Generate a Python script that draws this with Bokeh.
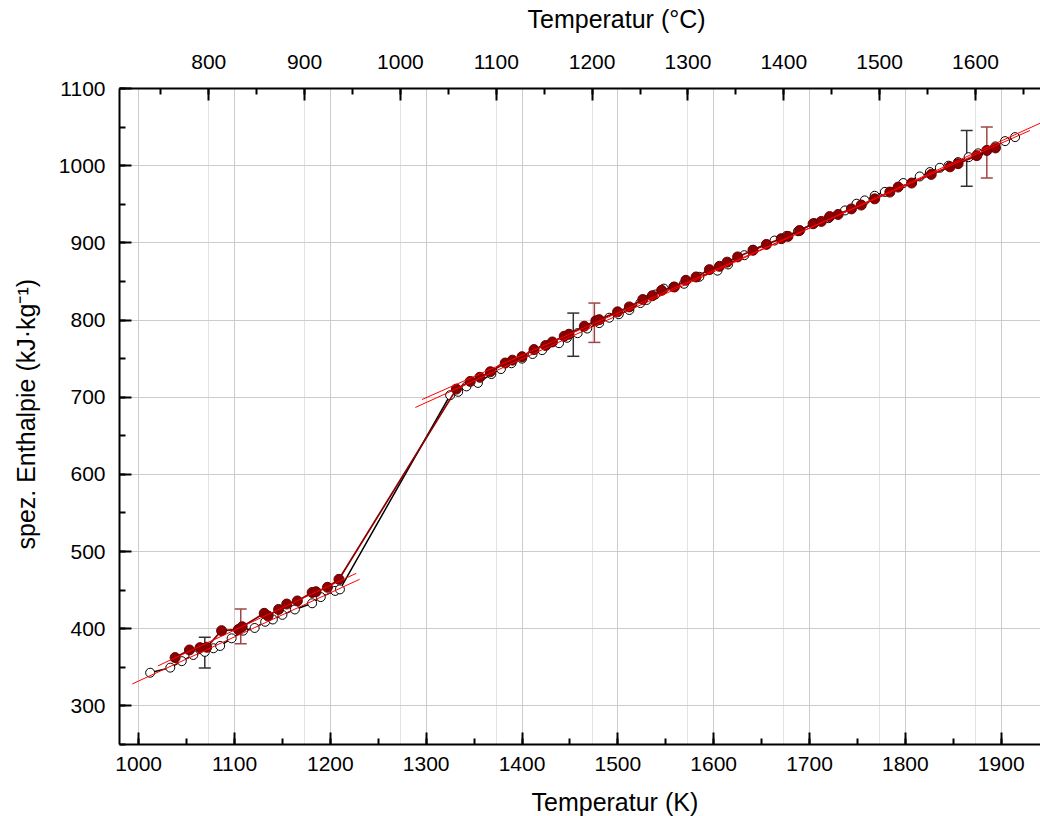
from bokeh.plotting import figure
from bokeh.models import (Range1d, LinearAxis, Grid, FixedTicker, SingleIntervalTicker,
                          ColumnDataSource, Whisker, TeeHead, Title)
from bokeh.embed import file_html
from bokeh.resources import INLINE

# ---- data: series 1 (open black circles), temperature in K, enthalpy in kJ/kg
black_T = [1012, 1033, 1045, 1057, 1069, 1078, 1085, 1097, 1109, 1121, 1132, 1140, 1150,
           1163, 1181, 1190, 1205, 1210,
           1325, 1333.4, 1342, 1354, 1368, 1378, 1389, 1400, 1411, 1421, 1438.6, 1447,
           1458, 1468, 1480.5, 1491, 1501, 1512, 1523.5, 1530, 1539, 1548, 1558, 1569,
           1585, 1604, 1615, 1632, 1641, 1663.5, 1676, 1688, 1705, 1720, 1737, 1749,
           1757.6, 1768, 1778.6, 1797.8, 1815, 1825.6, 1836, 1845, 1855, 1866, 1876,
           1885, 1894, 1904, 1914.5]
black_H = [343, 349.6, 358, 366, 370, 374.7, 377.7, 387.6, 397.5, 401, 409, 412, 418,
           425, 433, 441, 449, 451,
           702.6, 707, 714, 718.5, 730, 736.5, 744, 750, 756, 761, 770, 777,
           783, 789, 796, 803, 807.5, 813, 822, 826, 833, 840.7, 843, 847,
           856, 864, 872, 884, 891, 903, 909, 915, 925.6, 932, 942, 950.7,
           955, 961, 966, 977.5, 986, 991.7, 997.3, 1000, 1004.6, 1011, 1016,
           1020, 1025, 1031.8, 1037]

# ---- data: series 2 (filled dark red circles)
red_T = [1038, 1053, 1064, 1071, 1086.5, 1104, 1108, 1131, 1135, 1146, 1154.5, 1165.6,
         1181, 1185, 1197, 1209,
         1331.5, 1346, 1356, 1367, 1382.5, 1390, 1400, 1412.5, 1424.7, 1431.7, 1444,
         1449, 1465, 1477, 1480.5, 1499.7, 1512, 1526, 1536, 1545.7, 1559, 1571,
         1581.6, 1595.5, 1606, 1614, 1625, 1641, 1655, 1670.5, 1677.5, 1689.6, 1703.7,
         1712.3, 1721, 1729.8, 1743.7, 1754, 1768, 1783.8, 1792.5, 1806.5, 1827,
         1846.6, 1855, 1874.5, 1885, 1894]
red_H = [362.6, 372.5, 375.5, 376, 397.5, 399, 402.6, 420, 416.5, 425, 432, 436,
         447, 448, 453.7, 464,
         710.5, 720.5, 725.8, 733, 744.3, 748, 752.5, 761.7, 767, 771.6, 779,
         781.6, 792, 799, 800.5, 810.6, 817, 826.6, 831.5, 838.5, 842.8, 851.5,
         855.8, 865.3, 869.6, 875, 881.8, 890.4, 898, 905.4, 908.4, 916, 924.7,
         927.8, 934, 936.8, 944, 949, 957, 965.8, 972.3, 977.5, 988.7,
         998.5, 1002.6, 1013, 1019.7, 1023]

# ---- error bars
err_black_T = [1069, 1453.5, 1864]
err_black_H = [369, 781, 1009.5]
err_black_d = [20, 28, 36]
err_red_T = [1106.5, 1475.5, 1885]
err_red_H = [403, 796.5, 1017]
err_red_d = [22.6, 25.5, 33]

# ---- linear fits (start/end in K and kJ/kg)
fit_solid_black_T = [993.4, 1230.5]
fit_solid_black_H = [328.5, 464]
fit_solid_red_T = [1020, 1227]
fit_solid_red_H = [351.8, 471.8]
fit_liquid_a_T = [1288.7, 1950]
fit_liquid_a_H = [686.7, 1060.3]
fit_liquid_b_T = [1295.7, 1930]
fit_liquid_b_H = [697, 1045.6]

# ---- tick settings / axis titles
K_tick_step = 100
C_tick_step = 100
H_tick_step = 100
C_ticks = [700, 800, 900, 1000, 1100, 1200, 1300, 1400, 1500, 1600]
title_x = "Temperatur (K)"
title_top = "Temperatur (°C)"
title_y = "spez. Enthalpie (kJ·kg⁻¹)"

FONT = "Liberation Sans"
x0, x1 = 980, 1941
y0, y1 = 250, 1100
p = figure(width=1040, height=816, x_range=Range1d(x0, x1), y_range=Range1d(y0, y1),
           output_backend="svg", toolbar_location=None,
           x_axis_location=None, y_axis_location=None,
           min_border_left=119, min_border_right=0, min_border_top=88, min_border_bottom=72)
p.outline_line_color = None
p.background_fill_color = "white"
p.border_fill_color = "white"
p.extra_x_ranges = {"C": Range1d(x0 - 273.15, x1 - 273.15)}


def style_axis(ax, gap):
    ax.axis_line_width = 2
    ax.axis_line_color = "black"
    ax.major_tick_in = 12
    ax.major_tick_out = 0
    ax.minor_tick_in = 6
    ax.minor_tick_out = 0
    ax.major_tick_line_width = 2
    ax.minor_tick_line_width = 2
    ax.major_label_text_font = FONT
    ax.major_label_text_font_size = "21px"
    ax.major_label_text_color = "black"
    # tiny spacer label: reserves room between tick labels and the title panel
    ax.axis_label = " "
    ax.axis_label_text_font_size = "1px"
    ax.axis_label_standoff = gap


bottom = LinearAxis(ticker=SingleIntervalTicker(interval=K_tick_step, num_minor_ticks=2))
style_axis(bottom, 8)
bottom.major_label_standoff = 12
p.add_layout(bottom, "below")

top = LinearAxis(x_range_name="C",
                 ticker=SingleIntervalTicker(interval=C_tick_step, num_minor_ticks=2))
style_axis(top, 13)
top.major_label_standoff = 20
p.add_layout(top, "above")

left = LinearAxis(ticker=SingleIntervalTicker(interval=H_tick_step, num_minor_ticks=2))
style_axis(left, 10)
left.major_label_standoff = 14
p.add_layout(left, "left")

# axis titles as side-panel titles (allows off-centre placement like the original)
t_kw = dict(text_font=FONT, text_font_size="25px", text_font_style="normal",
            text_color="black", align="left")
p.add_layout(Title(text=title_x, offset=412, standoff=0, **t_kw), "below")
p.add_layout(Title(text=title_top, offset=408, standoff=4, **t_kw), "above")
p.add_layout(Title(text=title_y, offset=195, standoff=4, **t_kw), "left")

# grids
p.add_layout(Grid(dimension=0, ticker=SingleIntervalTicker(interval=K_tick_step),
                  grid_line_color="#cccccc", grid_line_width=1))
p.add_layout(Grid(dimension=0, ticker=FixedTicker(ticks=[c + 273.15 for c in C_ticks]),
                  grid_line_color="#c8c8c8", grid_line_width=1, grid_line_dash="1 1"))
p.add_layout(Grid(dimension=1, ticker=SingleIntervalTicker(interval=H_tick_step),
                  grid_line_color="#cccccc", grid_line_width=1))

# series 1
p.line(black_T, black_H, line_color="black", line_width=1.5)
p.scatter(black_T, black_H, marker="circle", size=9, fill_color="white",
          line_color="black", line_width=1)

# series 2
p.line(red_T, red_H, line_color="#8b0000", line_width=1.8)
p.scatter(red_T, red_H, marker="circle", size=10, fill_color="#8b0000",
          line_color="#6a0000", line_width=1)

# fit lines
for fx, fy in [(fit_solid_black_T, fit_solid_black_H), (fit_solid_red_T, fit_solid_red_H),
               (fit_liquid_a_T, fit_liquid_a_H), (fit_liquid_b_T, fit_liquid_b_H)]:
    p.line(fx, fy, line_color="#ff0000", line_width=1)


# error bars
def add_err(T, H, d, color):
    src = ColumnDataSource(dict(x=T, up=[h + e for h, e in zip(H, d)],
                                lo=[h - e for h, e in zip(H, d)]))
    w = Whisker(base="x", upper="up", lower="lo", source=src, dimension="height",
                line_color=color, line_width=1.5,
                upper_head=TeeHead(size=12, line_color=color, line_width=1.5),
                lower_head=TeeHead(size=12, line_color=color, line_width=1.5))
    p.add_layout(w)


add_err(err_black_T, err_black_H, err_black_d, "#333333")
add_err(err_red_T, err_red_H, err_red_d, "#a04545")

open("out.html", "w").write(file_html(p, INLINE))
